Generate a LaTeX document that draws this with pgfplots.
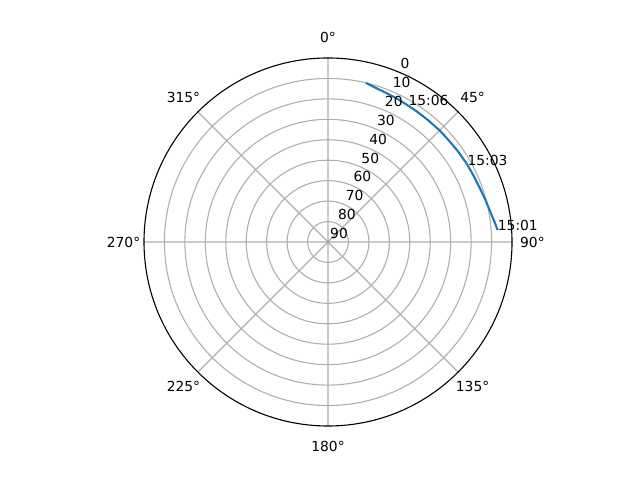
\documentclass[border=0pt]{standalone}
\usepackage{pgfplots}
\pgfplotsset{compat=1.18}
\usepgfplotslibrary{polar}
\usepackage{pgfplotstable}
\usepackage{fontspec}
\setmainfont{DejaVu Sans}

\definecolor{mplblue}{HTML}{1F77B4}
\definecolor{mplgrid}{HTML}{B0B0B0}

% sky track: azimuth (deg, clockwise from north) and elevation (deg)
\pgfplotstableread{
az el
86.0 6.8
83.0 8.0
80.6 8.9
75.0 10.3
70.5 11.2
65.0 11.8
60.4 12.1
55.0 12.5
50.0 12.8
45.0 12.8
40.0 12.9
35.0 12.8
30.0 12.6
25.0 12.1
20.2 11.6
16.0 10.8
13.4 10.0
}\track

\begin{document}
\begin{tikzpicture}[x=1bp,y=1bp]
  \fill[white] (0,0) rectangle (640,480);
  \useasboundingbox (0,0) rectangle (640,480);
  \begin{polaraxis}[
      at={(328bp,238bp)}, anchor=center,
      scale only axis, width=368bp, height=368bp,
      xmin=0, xmax=360, ymin=0, ymax=90,
      xtick={0,45,...,315}, ytick={10,20,...,80},
      xticklabels={}, yticklabels={},
      major tick length=0pt,
      grid=major,
      grid style={mplgrid, line width=1.1bp},
      x axis line style={black, line width=1.1bp},
      y axis line style={draw=none},
      clip=false,
      font=\fontsize{13.9}{16}\selectfont,
    ]
    \addplot[mplblue, line width=2.1bp, no markers]
      table[x expr={90-\thisrow{az}}, y expr={90-\thisrow{el}}] {\track};

    % azimuth labels
    \node at (axis cs:90,100) {0°};
    \node at (axis cs:45,100) {45°};
    \node at (axis cs:0,100) {90°};
    \node at (axis cs:315,100) {135°};
    \node at (axis cs:270,100) {180°};
    \node at (axis cs:225,100) {225°};
    \node at (axis cs:180,100) {270°};
    \node at (axis cs:135,100) {315°};

    % elevation labels
    \begin{scope}[every node/.style={anchor=south west, inner sep=0pt, xshift=2bp, yshift=3bp}]
      \node at (axis cs:67.5,90) {0};
      \node at (axis cs:67.5,80) {10};
      \node at (axis cs:67.5,70) {20};
      \node at (axis cs:67.5,60) {30};
      \node at (axis cs:67.5,50) {40};
      \node at (axis cs:67.5,40) {50};
      \node at (axis cs:67.5,30) {60};
      \node at (axis cs:67.5,20) {70};
      \node at (axis cs:67.5,10) {80};
      \node at (axis cs:67.5,0) {90};
    \end{scope}

    % time stamps along the track
    \node[anchor=base west, inner sep=0pt] at (axis cs:4.0,83.2) {15:01};
    \node[anchor=base west, inner sep=0pt] at (axis cs:28.7,77.7) {15:03};
    \node[anchor=base west, inner sep=0pt] at (axis cs:59.5,77.4) {15:06};
  \end{polaraxis}
\end{tikzpicture}
\end{document}
